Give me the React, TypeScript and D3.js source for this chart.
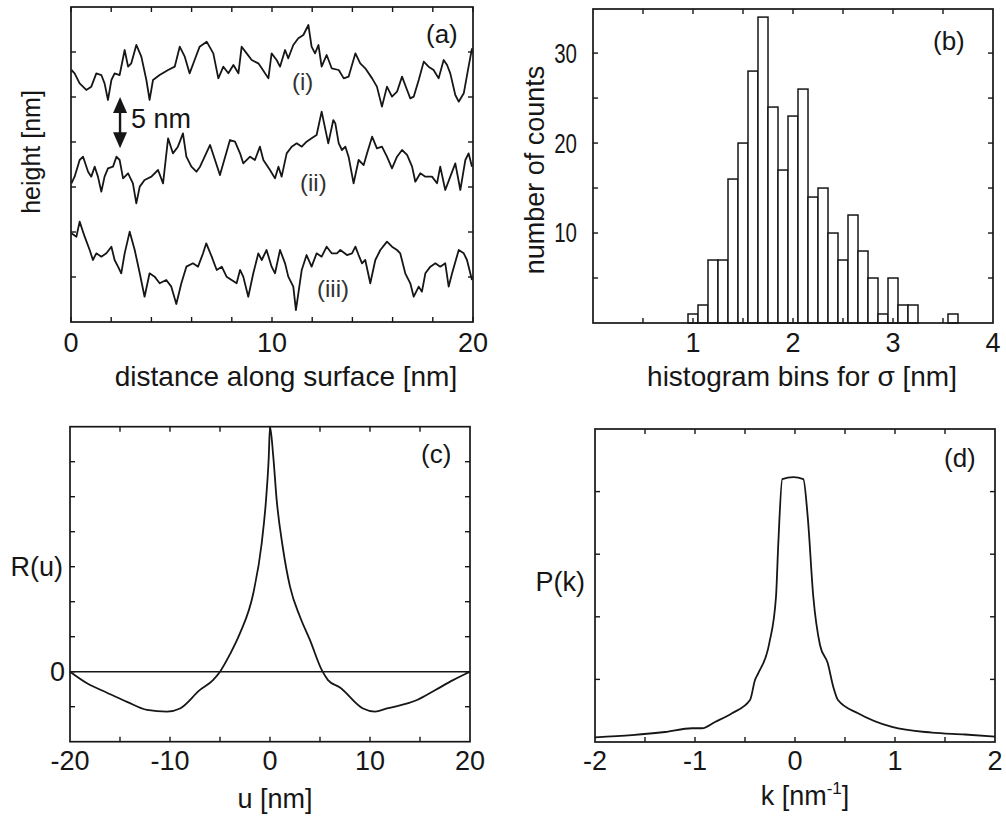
import React from "react";
import * as d3 from "d3";

const FONT = "'Liberation Sans', Arial, Helvetica, sans-serif";
const INK = "#161616";

// ---------- (a) surface profiles: distance [nm] and height [nm] ----------
const traceIx = [0.02,0.18,0.43,0.76,1.01,1.26,1.51,1.67,1.84,2.01,2.17,2.42,2.67,2.84,3.00,3.25,3.50,3.75,3.91,4.08,4.41,4.83,5.16,5.41,5.66,5.90,6.15,6.40,6.75,7.08,7.33,7.58,7.83,8.08,8.33,8.49,8.74,8.99,9.32,9.49,9.82,9.98,10.23,10.40,10.65,10.81,11.06,11.31,11.56,11.81,11.97,12.14,12.31,12.47,12.72,12.97,13.32,13.57,13.81,14.15,14.39,14.64,14.98,15.22,15.47,15.72,15.97,16.22,16.47,16.72,16.88,17.05,17.30,17.55,17.79,18.04,18.29,18.54,18.71,18.87,19.12,19.29,19.54,19.78,19.95];
const traceIh = [28.0,27.63,26.52,25.78,26.15,27.63,27.44,26.52,24.67,26.89,27.63,27.44,30.22,28.37,28.74,30.78,29.48,26.89,24.67,26.89,27.44,28.0,28.37,30.59,29.48,27.63,29.11,30.59,31.15,29.85,27.07,28.37,27.63,28.56,27.63,30.59,29.85,29.11,28.74,28.19,27.07,29.85,29.11,28.37,30.22,29.30,30.78,31.52,31.89,33.0,30.59,29.85,30.78,28.37,29.67,28.19,28.0,27.07,27.26,29.85,28.74,28.19,27.07,26.15,23.93,26.15,25.04,25.59,27.26,25.78,24.85,25.04,26.89,28.93,28.37,28.0,27.07,29.11,28.56,27.63,25.22,24.48,25.41,28.37,30.41];

const traceIIx = [0.02,0.18,0.43,0.60,0.85,1.01,1.18,1.34,1.51,1.67,1.84,2.09,2.26,2.42,2.59,2.84,3.08,3.25,3.42,3.66,4.0,4.33,4.58,4.83,5.07,5.32,5.57,5.74,5.99,6.24,6.42,6.92,7.41,7.91,8.16,8.41,8.57,8.91,9.15,9.40,9.57,9.90,10.15,10.32,10.48,10.73,10.98,11.23,11.48,11.72,11.97,12.22,12.47,12.80,13.05,13.15,13.32,13.48,13.65,13.81,14.06,14.31,14.56,14.73,14.98,15.22,15.47,15.72,15.97,16.22,16.47,16.72,16.97,17.13,17.38,17.63,17.96,18.21,18.37,18.62,18.87,19.12,19.37,19.62,19.78,19.95];
const traceIIh = [15.41,16.15,18.0,18.37,16.70,16.15,17.26,16.15,14.48,16.15,17.07,17.26,18.37,18.0,15.96,16.52,15.41,13.19,15.04,15.78,16.15,16.89,15.41,20.41,18.74,19.48,20.96,18.37,17.26,16.70,17.26,19.67,16.33,20.22,20.04,18.74,17.63,18.37,18.0,19.48,18.0,16.89,15.96,17.26,16.15,18.74,19.48,19.85,19.48,20.04,20.41,20.78,23.37,19.85,22.44,22.07,19.85,19.11,19.48,18.37,15.41,18.0,17.44,18.74,20.59,19.30,19.48,18.37,17.07,18.37,19.11,18.56,17.26,15.59,16.52,16.15,16.15,15.41,17.26,14.67,16.15,17.63,14.67,18.0,18.74,17.26];

const traceIIIx = [0.02,0.27,0.43,0.68,0.93,1.09,1.26,1.51,1.76,2.01,2.17,2.34,2.50,2.67,2.92,3.17,3.42,3.66,3.91,4.16,4.41,4.74,4.99,5.24,5.49,5.74,6.07,6.32,6.57,6.73,7.0,7.25,7.50,7.74,7.99,8.24,8.41,8.57,8.82,9.07,9.32,9.49,9.73,9.98,10.15,10.40,10.65,10.81,11.06,11.19,11.48,11.72,11.97,12.22,12.47,12.72,12.97,13.23,13.40,13.73,13.98,14.15,14.31,14.48,14.64,14.89,15.14,15.39,15.72,15.97,16.22,16.38,16.63,16.88,17.05,17.30,17.46,17.63,17.88,18.13,18.37,18.62,18.79,18.96,19.29,19.54,19.70,19.95];
const traceIIIh = [9.85,9.48,11.15,9.48,8.0,6.89,7.63,7.26,7.63,8.37,6.89,6.15,5.41,7.63,10.04,8.0,5.41,2.81,5.41,5.04,4.30,4.67,3.93,2.0,4.30,6.15,6.52,6.15,7.63,8.74,7.26,5.78,6.15,5.04,4.67,4.30,5.78,5.04,2.81,5.41,7.63,6.89,8.0,6.15,5.41,8.0,6.52,5.04,3.93,1.33,5.78,7.44,6.15,7.63,7.26,8.37,7.63,7.63,8.0,7.44,7.63,8.37,7.44,6.52,6.89,4.30,6.89,8.0,8.93,8.37,8.0,7.63,5.41,4.30,2.81,3.93,3.37,5.41,6.15,6.52,6.15,6.52,3.93,5.41,8.0,7.63,6.89,4.67];

const xTicksA = [0, 2, 4, 6, 8, 10, 12, 14, 16, 18, 20];
const xLabelsA = [0, 10, 20];
const yTicksA = [5, 10, 15, 20, 25, 30];

// ---------- (b) histogram of sigma ----------
const binCenters = [1.0,1.1,1.2,1.3,1.4,1.5,1.6,1.7,1.8,1.9,2.0,2.1,2.2,2.3,2.4,2.5,2.6,2.7,2.8,2.9,3.0,3.1,3.2,3.3,3.4,3.5,3.6];
const binCounts = [1,2,7,7,16,20,28,34,24,17,23,26,14,15,10,7,12,8,5,1,5,2,2,0,0,0,1];
const binWidth = 0.1;
const xTicksB = [0.5, 1, 1.5, 2, 2.5, 3, 3.5];
const xLabelsB = [1, 2, 3, 4];
const yTicksB = [5, 10, 15, 20, 25, 30];
const yLabelsB = [10, 20, 30];

// ---------- (c) autocorrelation R(u) ----------
const uVals = [-20,-18.3,-16.3,-14.3,-12.3,-10.3,-9,-7,-5.7,-5.0,-4.0,-3,-1.67,-0.83,-0.4,-0.13,0,0.33,0.67,1.27,2.0,3.0,4.0,5.17,5.8,7.0,9.3,10.5,11.7,14.7,16.5,18.3,20];
const rVals = [0,-0.33,-0.6,-0.86,-1.09,-1.14,-1.05,-0.52,-0.24,0,0.5,1.1,2.24,3.67,4.9,6.1,7,6.14,4.9,3.57,2.43,1.57,0.9,0.05,-0.24,-0.45,-1.05,-1.14,-1.05,-0.81,-0.53,-0.24,0];
const xTicksC = [-15, -10, -5, 0, 5, 10, 15];
const xLabelsC = [-20, -10, 0, 10, 20];
const yTicksC = [-1, 0, 1, 2, 3, 4, 5, 6];
const yLabelsC = [0];

// ---------- (d) power spectrum P(k) ----------
const kVals = [-2,-1.63,-1.3,-1.03,-0.93,-0.8,-0.63,-0.45,-0.4,-0.367,-0.257,-0.19,-0.167,-0.127,-0.017,0.083,0.127,0.183,0.25,0.327,0.383,0.43,0.63,0.97,1.37,1.7,2.0];
const pVals = [0.075,0.11,0.16,0.22,0.22,0.32,0.46,0.67,0.99,1.1,1.58,2.32,3.17,4.2,4.23,4.2,3.6,2.32,1.55,1.26,0.88,0.67,0.46,0.24,0.15,0.12,0.085];
const xTicksD = [-1.5, -1, -0.5, 0, 0.5, 1, 1.5];
const xLabelsD = [-2, -1, 0, 1, 2];
const yTicksD = [1, 2, 3, 4];

// ---------- scales ----------
const xA = d3.scaleLinear().domain([0, 20]).range([71, 473]);
const yA = d3.scaleLinear().domain([0, 35]).range([322, 7]);
const xB = d3.scaleLinear().domain([0, 4]).range([593, 993]);
const yB = d3.scaleLinear().domain([0, 34.9]).range([323, 9]);
const xC = d3.scaleLinear().domain([-20, 20]).range([70, 470]);
const yC = d3.scaleLinear().domain([-2, 7]).range([741.7, 426.7]);
const xD = d3.scaleLinear().domain([-2, 2]).range([595, 995]);
const yD = d3.scaleLinear().domain([0, 5]).range([742, 429]);

function Box({ xs, ys, xTicks, yTicks }: any) {
  const [x0, x1] = xs.range();
  const [y0, y1] = ys.range();
  const t = 5;
  return (
    <g stroke={INK} fill="none" strokeWidth={1.4}>
      {xTicks.map((v: number) => (
        <g key={"x" + v}>
          <line x1={xs(v)} x2={xs(v)} y1={y0} y2={y0 - t} />
          <line x1={xs(v)} x2={xs(v)} y1={y1} y2={y1 + t} />
        </g>
      ))}
      {yTicks.map((v: number) => (
        <g key={"y" + v}>
          <line x1={x0} x2={x0 + t} y1={ys(v)} y2={ys(v)} />
          <line x1={x1} x2={x1 - t} y1={ys(v)} y2={ys(v)} />
        </g>
      ))}
      <rect x={x0} y={y1} width={x1 - x0} height={y0 - y1} strokeWidth={1.7} />
    </g>
  );
}

function XLabels({ xs, vals, y }: any) {
  return (
    <g fontSize={27} fill={INK} textAnchor="middle">
      {vals.map((v: number) => (
        <text key={v} x={xs(v)} y={y}>{String(v)}</text>
      ))}
    </g>
  );
}

function mkLine(xs: any, ys: any, xv: number[], yv: number[], curve?: any) {
  const n = Math.min(xv.length, yv.length);
  const pts: [number, number][] = [];
  for (let i = 0; i < n; i++) pts.push([xv[i], yv[i]]);
  const gen = d3.line<[number, number]>().x((d) => xs(d[0])).y((d) => ys(d[1]));
  if (curve) gen.curve(curve);
  return gen(pts) || "";
}

export default function App() {
  const arrowX = xA(2.44);
  const arrowTop = yA(25);
  const arrowBot = yA(19.3);
  return (
    <div style={{ position: "absolute", left: 0, top: 0 }}>
      <svg width={1006} height={816} viewBox="0 0 1006 816" style={{ display: "block", background: "#fff" }} fontFamily={FONT}>
        <rect x={0} y={0} width={1006} height={816} fill="#fff" />

        {/* ----- panel (a) ----- */}
        <Box xs={xA} ys={yA} xTicks={xTicksA} yTicks={yTicksA} />
        <g fill="none" stroke={INK} strokeWidth={1.8} strokeLinejoin="round">
          <path d={mkLine(xA, yA, traceIx, traceIh)} />
          <path d={mkLine(xA, yA, traceIIx, traceIIh)} />
          <path d={mkLine(xA, yA, traceIIIx, traceIIIh)} />
        </g>
        <g stroke={INK} fill={INK}>
          <line x1={arrowX} x2={arrowX} y1={arrowTop + 10} y2={arrowBot - 10} strokeWidth={2.4} />
          <path d={`M${arrowX},${arrowTop} L${arrowX - 7},${arrowTop + 16} L${arrowX + 7},${arrowTop + 16} Z`} stroke="none" />
          <path d={`M${arrowX},${arrowBot} L${arrowX - 7},${arrowBot - 16} L${arrowX + 7},${arrowBot - 16} Z`} stroke="none" />
        </g>
        <text x={131} y={128} fontSize={27} fill={INK}>5 nm</text>
        <g fontSize={24} fill="#333">
          <text x={292} y={90}>(i)</text>
          <text x={300} y={191}>(ii)</text>
          <text x={317} y={297}>(iii)</text>
        </g>
        <text x={426} y={43} fontSize={26} fill={INK}>(a)</text>
        <XLabels xs={xA} vals={xLabelsA} y={352} />
        <text x={286} y={386} fontSize={28} fill={INK} textAnchor="middle">distance along surface [nm]</text>
        <text transform="translate(31,152) rotate(-90)" dy="0.35em" fontSize={25} fill={INK} textAnchor="middle">height [nm]</text>

        {/* ----- panel (b) ----- */}
        <g fill="#fff" stroke={INK} strokeWidth={1.5}>
          {binCenters.map((c, i) =>
            binCounts[i] > 0 ? (
              <rect key={c} x={xB(c - binWidth / 2)} y={yB(binCounts[i])} width={xB(c + binWidth / 2) - xB(c - binWidth / 2)} height={yB(0) - yB(binCounts[i])} />
            ) : null
          )}
        </g>
        <Box xs={xB} ys={yB} xTicks={xTicksB} yTicks={yTicksB} />
        <g fontSize={27} fill={INK} textAnchor="end">
          {yLabelsB.map((v) => (
            <text key={v} transform={`translate(577,${yB(v)}) scale(0.76,1)`} dy="0.35em">{String(v)}</text>
          ))}
        </g>
        <text x={933} y={50} fontSize={26} fill={INK}>(b)</text>
        <XLabels xs={xB} vals={xLabelsB} y={352} />
        <text x={802} y={386} fontSize={28} fill={INK} textAnchor="middle">histogram bins for σ [nm]</text>
        <text transform="translate(535,170) rotate(-90)" dy="0.35em" fontSize={27} fill={INK} textAnchor="middle">number of counts</text>

        {/* ----- panel (c) ----- */}
        <line x1={xC(-20)} x2={xC(20)} y1={yC(0)} y2={yC(0)} stroke={INK} strokeWidth={1.6} />
        <path d={mkLine(xC, yC, uVals, rVals, d3.curveMonotoneX)} fill="none" stroke={INK} strokeWidth={1.8} strokeLinejoin="round" />
        <Box xs={xC} ys={yC} xTicks={xTicksC} yTicks={yTicksC} />
        <g fontSize={27} fill={INK} textAnchor="end">
          {yLabelsC.map((v) => (
            <text key={v} x={65} y={yC(v)} dy="0.35em">{String(v)}</text>
          ))}
        </g>
        <text x={63} y={567} dy="0.35em" fontSize={27} fill={INK} textAnchor="end">R(u)</text>
        <text x={421} y={463} fontSize={26} fill={INK}>(c)</text>
        <XLabels xs={xC} vals={xLabelsC} y={770} />
        <text x={275} y={808} fontSize={27} fill={INK} textAnchor="middle">u [nm]</text>

        {/* ----- panel (d) ----- */}
        <path d={mkLine(xD, yD, kVals, pVals, d3.curveMonotoneX)} fill="none" stroke={INK} strokeWidth={1.8} strokeLinejoin="round" />
        <Box xs={xD} ys={yD} xTicks={xTicksD} yTicks={yTicksD} />
        <text x={585} y={582} dy="0.35em" fontSize={27} fill={INK} textAnchor="end">P(k)</text>
        <text x={944} y={467} fontSize={26} fill={INK}>(d)</text>
        <XLabels xs={xD} vals={xLabelsD} y={770} />
        <text x={805} y={805} fontSize={27} fill={INK} textAnchor="middle">
          k [nm<tspan fontSize={17} dy={-11}>-1</tspan><tspan dy={11}>]</tspan>
        </text>
      </svg>
    </div>
  );
}
